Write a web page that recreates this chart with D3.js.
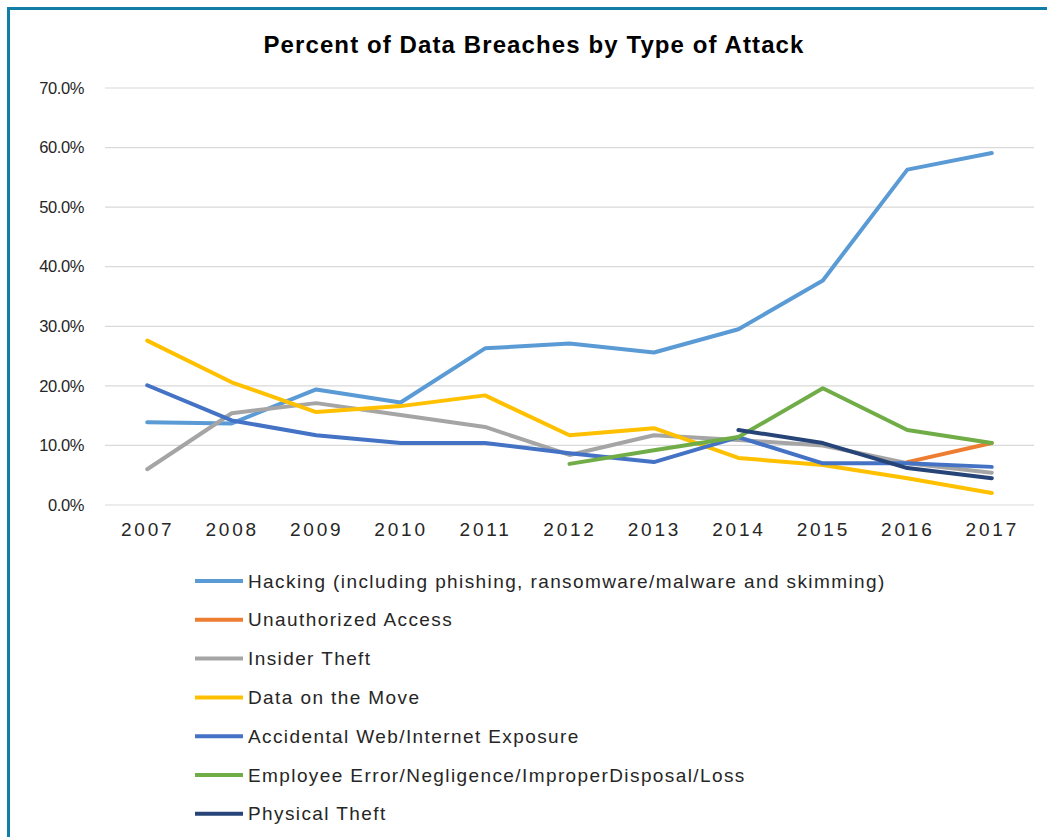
<!DOCTYPE html>
<html lang="en">
<head>
<meta charset="UTF-8">
<title>Percent of Data Breaches by Type of Attack</title>
<script src="https://d3js.org/d3.v7.min.js"></script>
<style>
    body { margin: 0; background: #fff; }
    text { font-family: "Liberation Sans", Arial, sans-serif; fill: #262626; }
    .title { font-size: 24px; font-weight: bold; fill: #000; letter-spacing: 1.1px; }
    .ytick { font-size: 16.5px; letter-spacing: -0.4px; }
    .xtick { font-size: 19px; letter-spacing: 2.8px; }
    .legend text { font-size: 19px; letter-spacing: 1.4px; }
</style>
</head>
<body>
<div id="chart"></div>
<script>
    // years on the x axis
    var years = ["2007", "2008", "2009", "2010", "2011", "2012", "2013", "2014", "2015", "2016", "2017"];
    var yTicks = [0, 10, 20, 30, 40, 50, 60, 70];

    // series values in percent (null = no data)
    var hacking = [13.9, 13.7, 19.4, 17.2, 26.3, 27.1, 25.6, 29.5, 37.7, 56.3, 59.1];
    var unauthorized = [null, null, null, null, null, null, null, null, null, 7.2, 10.4];
    var insider = [6.0, 15.4, 17.1, 15.1, 13.1, 8.4, 11.7, 10.9, 10.0, 7.0, 5.4];
    var dataMove = [27.6, 20.6, 15.6, 16.6, 18.4, 11.7, 12.9, 7.9, 6.7, 4.5, 2.0];
    var accidental = [20.1, 14.2, 11.7, 10.4, 10.4, 8.7, 7.2, 11.4, 7.0, 7.0, 6.4];
    var employee = [null, null, null, null, null, 6.9, 9.2, 11.4, 19.6, 12.6, 10.4];
    var physical = [null, null, null, null, null, null, null, 12.6, 10.4, 6.2, 4.5];

    var seriesNames = [
        "Hacking (including phishing, ransomware/malware and skimming)",
        "Unauthorized Access",
        "Insider Theft",
        "Data on the Move",
        "Accidental Web/Internet Exposure",
        "Employee Error/Negligence/ImproperDisposal/Loss",
        "Physical Theft"
    ];
    var seriesValues = [hacking, unauthorized, insider, dataMove, accidental, employee, physical];
    var seriesColors = ["#5b9bd5", "#ed7d31", "#a5a5a5", "#ffc000", "#4472c4", "#70ad47", "#264478"];

    var W = 1047, H = 837;
    var margin = { top: 88, right: 13, bottom: 332, left: 105 },
        width = W - margin.left - margin.right,
        height = H - margin.top - margin.bottom;

    var svg = d3.select("#chart").append("svg")
        .attr("width", W)
        .attr("height", H);

    // teal frame on top and left
    svg.append("rect").attr("x", 7).attr("y", 7).attr("width", W).attr("height", 3).attr("fill", "#127ea6");
    svg.append("rect").attr("x", 7).attr("y", 7).attr("width", 3).attr("height", H).attr("fill", "#127ea6");

    svg.append("text")
        .attr("class", "title")
        .attr("x", 534)
        .attr("y", 53)
        .attr("text-anchor", "middle")
        .text("Percent of Data Breaches by Type of Attack");

    var g = svg.append("g").attr("transform", "translate(" + margin.left + "," + margin.top + ")");

    var x = d3.scalePoint().domain(years).range([0, width]).padding(0.5);
    var y = d3.scaleLinear().domain([0, 70]).range([height, 0]);

    // gridlines
    g.selectAll(".grid")
        .data(yTicks)
        .enter().append("line")
        .attr("x1", 0).attr("x2", width)
        .attr("y1", function (d) { return y(d); })
        .attr("y2", function (d) { return y(d); })
        .attr("stroke", "#d9d9d9")
        .attr("stroke-width", 1.2);

    // y axis labels
    var yAxis = g.append("g")
        .call(d3.axisLeft(y).tickValues(yTicks).tickSize(0).tickPadding(21)
            .tickFormat(function (d) { return d.toFixed(1) + "%"; }));
    yAxis.select(".domain").remove();
    yAxis.selectAll("text").attr("class", "ytick").attr("font-family", null).attr("font-size", null);

    // x axis labels
    var xAxis = g.append("g")
        .attr("transform", "translate(0," + height + ")")
        .call(d3.axisBottom(x).tickSize(0).tickPadding(18));
    xAxis.select(".domain").remove();
    xAxis.selectAll("text").attr("class", "xtick").attr("font-family", null).attr("font-size", null);

    var line = d3.line()
        .defined(function (d) { return d !== null; })
        .x(function (d, i) { return x(years[i]); })
        .y(function (d) { return y(d); });

    g.selectAll(".series")
        .data(seriesValues)
        .enter().append("path")
        .attr("fill", "none")
        .attr("stroke", function (d, i) { return seriesColors[i]; })
        .attr("stroke-width", 4)
        .attr("stroke-linejoin", "round")
        .attr("stroke-linecap", "round")
        .attr("d", line);

    // legend
    var legend = svg.append("g").attr("class", "legend");
    var rows = legend.selectAll("g")
        .data(seriesNames)
        .enter().append("g")
        .attr("transform", function (d, i) { return "translate(195," + (581 + i * 38.8) + ")"; });
    rows.append("line")
        .attr("x1", 0).attr("x2", 48)
        .attr("stroke", function (d, i) { return seriesColors[i]; })
        .attr("stroke-width", 4);
    rows.append("text")
        .attr("x", 53)
        .attr("dy", "0.35em")
        .text(function (d) { return d; });
</script>
</body>
</html>
